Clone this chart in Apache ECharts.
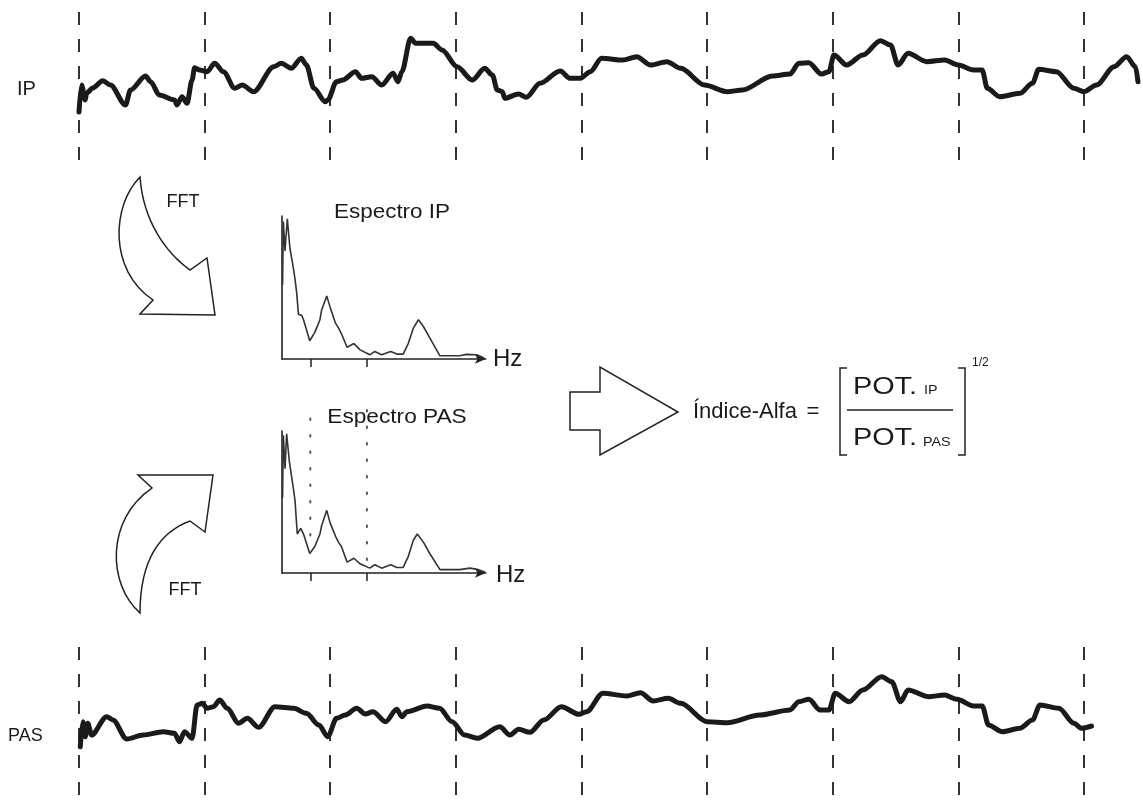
<!DOCTYPE html>
<html>
<head>
<meta charset="utf-8">
<script src="https://cdn.jsdelivr.net/npm/echarts@6/dist/echarts.min.js"></script>
<style>
html, body { margin: 0; padding: 0; background: #fff; }
#chart { width: 1143px; height: 809px; }
</style>
</head>
<body>
<div id="chart"></div>
<script>
// Interval signals: time in seconds (one dashed division per second), amplitude in arbitrary units
const ipTrace = [
  [0,-2.2],[0.02,0.5],[0.05,-1.0],[0.06,-0.3],[0.11,0.2],[0.19,0.93],[0.25,0.5],[0.37,-1.5],[0.41,0],
  [0.53,1.4],[0.57,0.83],[0.64,-0.5],[0.76,-1.0],[0.78,-1.5],[0.82,-0.67],[0.86,-1.33],[0.90,1.0],
  [0.92,2.23],[0.96,2.0],[1.02,1.83],[1.08,2.67],[1.15,1.83],[1.24,0.17],[1.30,0.5],[1.39,-0.17],
  [1.55,2.33],[1.61,2.67],[1.69,2.17],[1.77,3.17],[1.81,2.5],[1.87,0.17],[1.96,-1.17],[1.98,-1.0],
  [2.05,0.83],[2.10,1.0],[2.20,1.83],[2.25,1.17],[2.33,1.33],[2.41,0.5],[2.50,1.67],[2.54,0.83],
  [2.57,1.83],[2.64,5.17],[2.68,4.67],[2.82,4.67],[2.89,4.0],[3.01,2.33],[3.13,1.0],[3.23,2.17],
  [3.29,1.5],[3.33,0],[3.37,-0.17],[3.39,-0.83],[3.50,-0.4],[3.56,-0.73],[3.67,0.67],[3.83,1.9],
  [3.91,1.17],[3.99,1.17],[4.07,1.83],[4.16,3.17],[4.33,3.0],[4.44,3.33],[4.55,2.5],[4.68,2.83],
  [4.79,2.17],[4.98,0.5],[5.16,-0.17],[5.28,0],[5.52,1.4],[5.66,1.6],[5.73,2.67],[5.81,2.73],
  [5.91,1.6],[5.97,1.83],[6.01,3.5],[6.11,2.5],[6.24,3.5],[6.38,4.93],[6.46,4.5],[6.52,2.5],
  [6.60,3.67],[6.75,2.83],[6.89,3.0],[7.00,2.5],[7.12,2.0],[7.19,2.0],[7.23,0.17],[7.33,-0.67],
  [7.49,-0.33],[7.59,0.67],[7.64,2.07],[7.78,1.83],[7.92,0.17],[8.00,-0.17],[8.10,0.5],[8.24,2.33],
  [8.34,3.33],[8.41,2.33],[8.43,0.83]
];

const pasTrace = [
  [0.01,-2.17],[0.03,0.33],[0.05,-1.17],[0.07,0.17],[0.10,-1.0],[0.22,0.83],[0.27,0.5],[0.38,-1.4],
  [0.51,-1.0],[0.67,-0.67],[0.76,-0.83],[0.80,-1.67],[0.84,-0.67],[0.90,-1.33],[0.94,2.0],[0.98,2.17],
  [1.02,1.67],[1.07,1.83],[1.12,2.5],[1.18,1.67],[1.27,0.17],[1.34,0.67],[1.43,-0.23],[1.56,1.83],
  [1.71,1.67],[1.81,1.17],[1.91,0],[1.98,-1.17],[2.05,0.67],[2.12,1.0],[2.21,1.67],[2.28,1.1],
  [2.34,1.33],[2.44,0.33],[2.53,1.57],[2.57,0.83],[2.61,1.33],[2.77,1.9],[2.87,1.67],[2.97,0.33],
  [3.07,-1.0],[3.17,-1.33],[3.35,-0.17],[3.43,-1.0],[3.50,-0.43],[3.59,-0.73],[3.70,0.5],[3.84,1.83],
  [3.98,1.07],[4.04,1.33],[4.17,3.17],[4.36,2.9],[4.47,3.23],[4.57,2.4],[4.69,2.67],[4.79,2.17],
  [5.00,0.33],[5.16,0.23],[5.42,1.0],[5.66,1.5],[5.73,2.33],[5.81,2.57],[5.90,1.5],[5.97,1.5],
  [6.02,3.17],[6.13,2.33],[6.24,3.5],[6.39,4.83],[6.47,4.33],[6.54,2.33],[6.60,3.5],[6.76,2.83],
  [6.89,3.0],[6.99,2.57],[7.12,1.9],[7.19,1.9],[7.24,0],[7.35,-0.67],[7.49,-0.33],[7.59,0.5],
  [7.65,2.0],[7.80,1.67],[7.92,0.17],[7.98,-0.33],[8.06,-0.1]
];

// Power spectra: frequency in Hz, power normalised to the peak
const ipSpectrum = [
  [0.001,0.53],[0.0024,0.98],[0.0053,0.77],[0.0094,1.0],[0.014,0.79],[0.020,0.65],[0.023,0.57],
  [0.026,0.47],[0.029,0.32],[0.035,0.31],[0.038,0.28],[0.049,0.13],[0.058,0.19],[0.067,0.28],
  [0.070,0.35],[0.079,0.45],[0.085,0.37],[0.094,0.26],[0.100,0.22],[0.105,0.18],[0.115,0.084],
  [0.127,0.11],[0.138,0.065],[0.155,0.03],[0.164,0.054],[0.176,0.03],[0.192,0.054],[0.203,0.035],
  [0.214,0.035],[0.223,0.11],[0.232,0.22],[0.241,0.28],[0.250,0.23],[0.261,0.15],[0.279,0.023],
  [0.314,0.023],[0.326,0.033],[0.344,0.03],[0.357,0.007]
];

const pasSpectrum = [
  [0.001,0.54],[0.0024,0.99],[0.0053,0.75],[0.0082,1.0],[0.013,0.8],[0.020,0.61],[0.023,0.52],
  [0.027,0.28],[0.033,0.32],[0.038,0.28],[0.049,0.14],[0.058,0.19],[0.067,0.28],[0.070,0.34],
  [0.079,0.45],[0.085,0.36],[0.095,0.26],[0.100,0.22],[0.105,0.19],[0.115,0.078],[0.127,0.106],
  [0.138,0.066],[0.155,0.035],[0.164,0.059],[0.176,0.035],[0.192,0.059],[0.203,0.04],[0.214,0.04],
  [0.223,0.118],[0.232,0.235],[0.239,0.28],[0.250,0.22],[0.261,0.14],[0.279,0.024],[0.314,0.024],
  [0.332,0.035],[0.347,0.024],[0.359,0.005]
];

// LF band limits (Hz) and the vertical reach of their guide lines on the PAS spectrum
const bandEdges = [0.05, 0.15];
const bandGuideSpan = [[0.27, 1.2], [0.094, 1.2]];

const traceLabels = ['IP', 'PAS'];
const spectrumTitles = ['Espectro IP', 'Espectro PAS'];
const freqUnit = 'Hz';
const fftLabel = 'FFT';
const formulaName = 'Índice-Alfa';
const powerLabel = 'POT.';
const powerSubs = ['IP', 'PAS'];
const exponentLabel = '1/2';

const FONT = '"Liberation Sans", Arial, Helvetica, sans-serif';
const INK = '#1a1a1a';

function traceXAxis(gridIndex) {
  return {
    type: 'value', gridIndex, min: 0, max: 8.47, interval: 1,
    axisLine: { show: false }, axisTick: { show: false }, axisLabel: { show: false },
    splitLine: { show: true, showMaxLine: false,
      lineStyle: { color: '#333', width: 2, type: [13, 14], dashOffset: -2 } }
  };
}
function traceYAxis(gridIndex) {
  return { type: 'value', gridIndex, min: -8, max: 8, show: false };
}
function specXAxis(gridIndex) {
  return {
    type: 'value', gridIndex, min: 0, max: 0.36,
    axisLine: { show: true, symbol: ['none', 'arrow'], symbolSize: [7, 11],
      lineStyle: { color: '#222', width: 1.6 } },
    axisTick: { show: true, inside: false, length: 8, customValues: bandEdges,
      lineStyle: { color: '#222', width: 1.5 } },
    axisLabel: { show: false }, splitLine: { show: false }
  };
}
function specYAxis(gridIndex) {
  return {
    type: 'value', gridIndex, min: 0, max: 1.02,
    axisLine: { show: true, onZero: false, lineStyle: { color: '#222', width: 1.6 } },
    axisTick: { show: false }, axisLabel: { show: false }, splitLine: { show: false }
  };
}

// Text element; sx widens the glyphs horizontally around the anchor point
function txt(text, x, y, size, align, sx) {
  return {
    type: 'text', z: 10, x, y, scaleX: sx || 1,
    style: { text, x: 0, y: 0, font: size + 'px ' + FONT, fill: INK,
      textAlign: align || 'left', textVerticalAlign: 'middle' }
  };
}

// Outline of a shape made of straight segments and cubic Bézier pieces
function outlinePoints(start, steps) {
  const pts = [start];
  let cur = start;
  steps.forEach(s => {
    if (s.length === 1) { pts.push(s[0]); cur = s[0]; return; }
    const [c1, c2, end] = s;
    for (let i = 1; i <= 16; i++) {
      const t = i / 16, u = 1 - t;
      pts.push([
        u*u*u*cur[0] + 3*u*u*t*c1[0] + 3*u*t*t*c2[0] + t*t*t*end[0],
        u*u*u*cur[1] + 3*u*u*t*c1[1] + 3*u*t*t*c2[1] + t*t*t*end[1]
      ]);
    }
    cur = end;
  });
  return pts;
}
const outline = { fill: '#fff', stroke: '#222', lineWidth: 1.5 };

const downArrow = outlinePoints([140,177], [
  [[112,205],[108,270],[153,300]], [[140,314]], [[215,315]], [[207,258]], [[190,270]],
  [[165,252],[143,220],[140,177]]
]);
const upArrow = outlinePoints([138,475], [
  [[213,475]], [[205,532]], [[190,521]], [[160,532],[140,560],[140,613]],
  [[108,585],[105,520],[152,488]]
]);

const option = {
  backgroundColor: '#fff',
  animation: false,
  grid: [
    { left: 79, top: 10, width: 1064, height: 160 },     // IP signal
    { left: 79, top: 645, width: 1064, height: 160 },    // PAS signal
    { left: 282, top: 216, width: 203.8, height: 143 },  // IP spectrum
    { left: 282, top: 431, width: 203.8, height: 142 }   // PAS spectrum
  ],
  xAxis: [traceXAxis(0), traceXAxis(1), specXAxis(2), specXAxis(3)],
  yAxis: [traceYAxis(0), traceYAxis(1), specYAxis(2), specYAxis(3)],
  series: [
    { type: 'line', xAxisIndex: 0, yAxisIndex: 0, data: ipTrace, showSymbol: false,
      smooth: 0.3, smoothMonotone: 'x', clip: false,
      lineStyle: { color: INK, width: 5, cap: 'round', join: 'round' }, z: 5 },
    { type: 'line', xAxisIndex: 1, yAxisIndex: 1, data: pasTrace, showSymbol: false,
      smooth: 0.3, smoothMonotone: 'x', clip: false,
      lineStyle: { color: INK, width: 5, cap: 'round', join: 'round' }, z: 5 },
    { type: 'line', xAxisIndex: 2, yAxisIndex: 2, data: ipSpectrum, showSymbol: false,
      lineStyle: { color: '#333', width: 1.6 } },
    { type: 'line', xAxisIndex: 3, yAxisIndex: 3, data: pasSpectrum, showSymbol: false,
      lineStyle: { color: '#333', width: 1.6 } },
    ...bandEdges.map((f, i) => ({
      type: 'line', xAxisIndex: 3, yAxisIndex: 3, clip: false, showSymbol: false, silent: true,
      data: [[f, bandGuideSpan[i][0]], [f, bandGuideSpan[i][1]]],
      lineStyle: { color: '#555', width: 2, type: [1.5, 15], cap: 'round' }
    }))
  ],
  graphic: [
    // trace labels
    txt(traceLabels[0], 17, 89, 20),
    txt(traceLabels[1], 8, 736, 18),
    // spectrum titles and unit labels
    txt(spectrumTitles[0], 392, 212, 21, 'center', 1.07),
    txt(spectrumTitles[1], 397, 417, 21, 'center', 1.08),
    txt(freqUnit, 493, 359, 24),
    txt(freqUnit, 496, 575, 24),
    // curved FFT arrows
    { type: 'polygon', shape: { points: downArrow }, style: outline },
    { type: 'polygon', shape: { points: upArrow }, style: outline },
    txt(fftLabel, 183, 202, 18, 'center'),
    txt(fftLabel, 185, 590, 18, 'center'),
    // block arrow towards the index
    { type: 'polygon', shape: { points: [[570,392],[600,392],[600,367],[678,412],[600,455],[600,430],[570,430]] },
      style: outline },
    // index formula
    txt(formulaName, 693, 412, 22),
    txt('=', 813, 412, 22, 'center'),
    { type: 'polyline', shape: { points: [[847,368],[840,368],[840,455],[847,455]] },
      style: { fill: null, stroke: '#222', lineWidth: 1.5 } },
    { type: 'polyline', shape: { points: [[958,368],[965,368],[965,455],[958,455]] },
      style: { fill: null, stroke: '#222', lineWidth: 1.5 } },
    { type: 'line', shape: { x1: 847, y1: 410, x2: 953, y2: 410 },
      style: { stroke: '#222', lineWidth: 1.5 } },
    txt(powerLabel, 853, 387, 24, 'left', 1.2),
    txt(powerSubs[0], 924, 390, 13, 'left', 1.1),
    txt(powerLabel, 853, 438, 24, 'left', 1.2),
    txt(powerSubs[1], 923, 442, 13, 'left', 1.1),
    txt(exponentLabel, 972, 363, 12)
  ]
};

const chart = echarts.init(document.getElementById('chart'), null, { renderer: 'canvas' });
chart.setOption(option);
</script>
</body>
</html>
